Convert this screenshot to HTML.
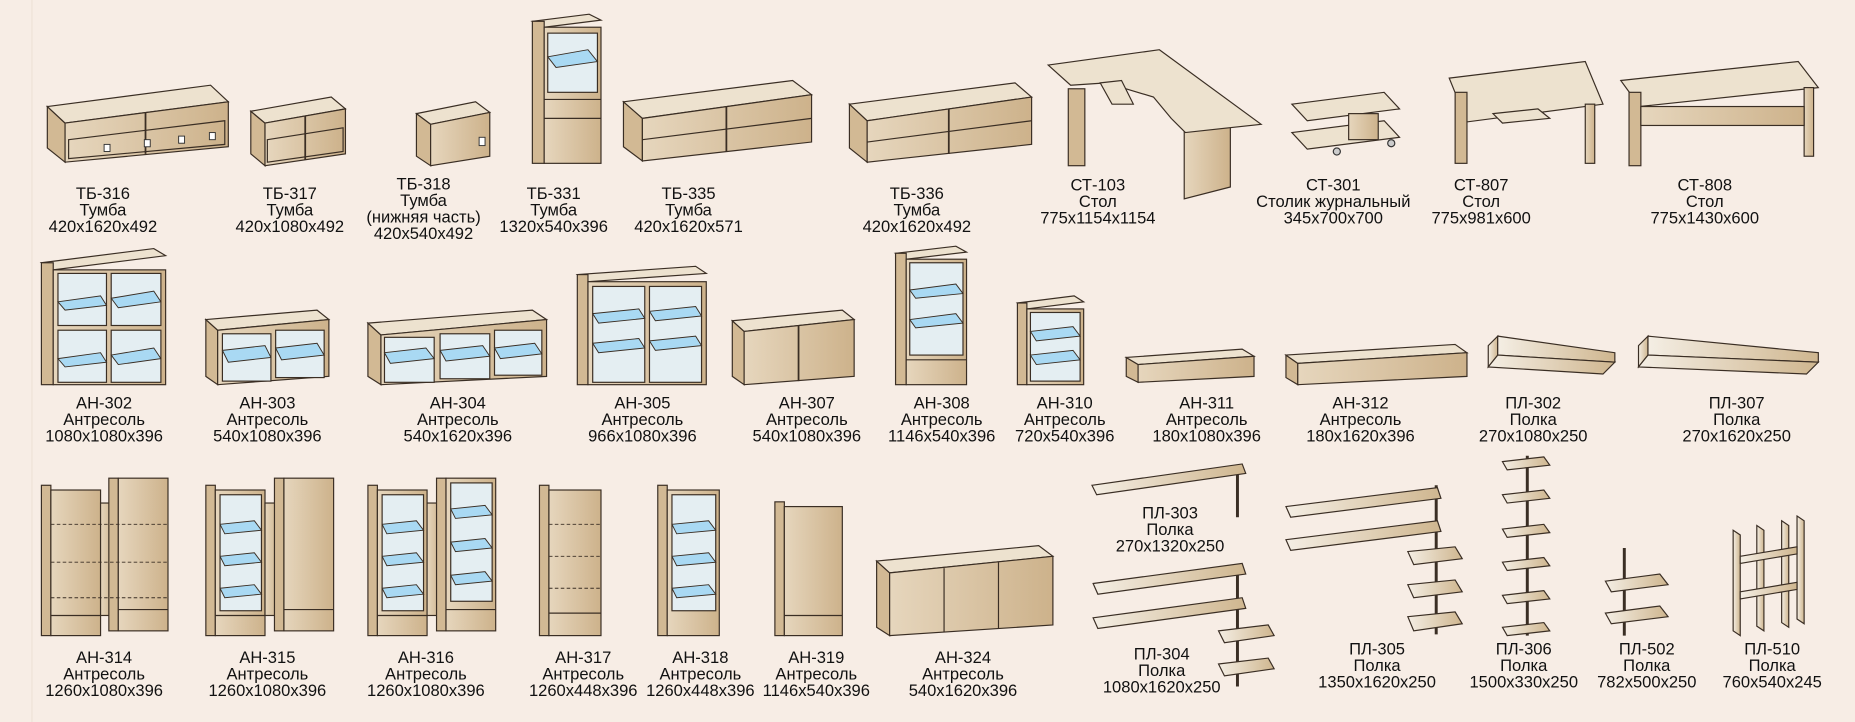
<!DOCTYPE html>
<html><head><meta charset="utf-8"><style>
html,body{margin:0;padding:0;background:#f7ede5}
svg{display:block}
text{font-family:"Liberation Sans Narrow","Liberation Sans",sans-serif;font-size:14px;fill:#111;text-anchor:middle}
.f{fill:url(#g1);stroke:#3a2e24;stroke-width:1}
.t{fill:#ede2cf;stroke:#3a2e24;stroke-width:1}
.s{fill:#d2b994;stroke:#3a2e24;stroke-width:1}
.gl{fill:#e4eef2;stroke:#3a2e24;stroke-width:1}
.b{fill:#a9d9f3;stroke:#3a2e24;stroke-width:.8}
.d{fill:none;stroke:#3a2e24;stroke-width:.8;stroke-dasharray:3 2}
.p{stroke:#3a2e24;stroke-width:2.5}
.sh{fill:url(#g2);stroke:#3a2e24;stroke-width:1}
.h{fill:#fff;stroke:#333;stroke-width:.8}
</style></head><body>
<svg width="1855" height="722" viewBox="0 0 1568 610" preserveAspectRatio="none" xmlns="http://www.w3.org/2000/svg">
<defs>
<linearGradient id="g1" x1="0" y1="0" x2="1" y2="0"><stop offset="0" stop-color="#e6d6bd"/><stop offset="1" stop-color="#cdb28b"/></linearGradient>
<linearGradient id="g2" x1="0" y1="0" x2="1" y2="0"><stop offset="0" stop-color="#f4eee4"/><stop offset="1" stop-color="#cfb68f"/></linearGradient>
</defs>
<rect x="0" y="0" width="1568" height="610" fill="#f7ede5"/>
<line x1="27" y1="0" x2="27" y2="610" stroke="#eee2d6" stroke-width="1"/>

<!-- ROW 1 -->
<!-- TB-316 -->
<polygon class="s" points="40,90 55,104 55,137 40,125"/>
<polygon class="t" points="40,90 178,72 193,86 55,104"/>
<polygon class="f" points="55,104 193,86 193,124 55,137"/>
<polygon class="f" points="58,118 190,102 190,122 58,134"/>
<line x1="123" y1="95" x2="123" y2="130" stroke="#3a2e24" stroke-width="1.5"/>
<rect class="h" x="88" y="122" width="5" height="6"/><rect class="h" x="122" y="118" width="5" height="6"/><rect class="h" x="151" y="115" width="5" height="6"/><rect class="h" x="177" y="112" width="5" height="6"/>
<!-- TB-317 -->
<polygon class="s" points="212,94 224,104 224,140 212,130"/>
<polygon class="t" points="212,94 280,82 292,92 224,104"/>
<polygon class="f" points="224,104 292,92 292,130 224,140"/>
<polygon class="f" points="226,118 290,108 290,128 226,137"/>
<line x1="258" y1="98" x2="258" y2="135" stroke="#3a2e24" stroke-width="1.5"/>
<!-- TB-318 -->
<polygon class="s" points="352,96 364,105 364,140 352,132"/>
<polygon class="t" points="352,96 402,86 414,95 364,105"/>
<polygon class="f" points="364,105 414,95 414,132 364,140"/>
<rect class="h" x="405" y="116" width="5" height="7"/>
<!-- TB-331 -->
<polygon class="t" points="450,18 498,12 508,17 460,23"/>
<rect class="s" x="450" y="18" width="10" height="120"/>
<rect class="f" x="460" y="23" width="48" height="115"/>
<rect class="gl" x="463" y="28" width="42" height="50"/>
<polygon class="b" points="463,48 497,42 505,52 470,57"/>
<line x1="460" y1="84" x2="508" y2="84" stroke="#3a2e24"/><line x1="460" y1="100" x2="508" y2="100" stroke="#3a2e24"/>
<!-- TB-335 -->
<polygon class="s" points="527,86 543,100 543,136 527,124"/>
<polygon class="t" points="527,86 670,68 686,80 543,100"/>
<polygon class="f" points="543,100 686,80 686,120 543,136"/>
<line x1="543" y1="118" x2="686" y2="100" stroke="#3a2e24"/><line x1="614" y1="90" x2="614" y2="128" stroke="#3a2e24" stroke-width="1.5"/>
<!-- TB-336 -->
<polygon class="s" points="718,88 733,102 733,137 718,125"/>
<polygon class="t" points="718,88 858,70 872,82 733,102"/>
<polygon class="f" points="733,102 872,82 872,122 733,137"/>
<line x1="733" y1="120" x2="872" y2="102" stroke="#3a2e24"/><line x1="802" y1="92" x2="802" y2="130" stroke="#3a2e24" stroke-width="1.5"/>
<!-- CT-103 -->
<rect class="s" x="903" y="75" width="14" height="65"/>
<polygon class="f" points="1001,110 1040,105 1040,158 1001,168"/>
<polygon class="t" points="886,55 980,42 1066,105 1002,112 990,100 975,82 935,70 905,72"/>
<polygon class="t" points="930,70 948,68 958,88 940,88"/>
<!-- CT-301 -->
<polygon class="t" points="1092,88 1170,78 1183,92 1105,102"/>
<polygon class="t" points="1092,112 1170,102 1183,116 1105,126"/>
<rect class="f" x="1140" y="96" width="25" height="22"/>
<circle cx="1130" cy="128" r="3" fill="#ccc" stroke="#333"/><circle cx="1176" cy="121" r="3" fill="#ccc" stroke="#333"/>
<!-- CT-807 -->
<polygon class="t" points="1225,66 1340,52 1355,88 1240,103"/>
<rect class="s" x="1230" y="78" width="10" height="60"/>
<rect class="f" x="1340" y="88" width="8" height="50"/>
<polygon class="t" points="1262,96 1300,92 1310,100 1270,104"/>
<!-- CT-808 -->
<polygon class="t" points="1370,68 1520,52 1537,74 1386,90"/>
<rect class="s" x="1377" y="78" width="10" height="62"/>
<rect class="f" x="1525" y="74" width="8" height="58"/>
<rect class="f" x="1387" y="90" width="138" height="16"/>

<!-- ROW 2 -->
<!-- AH-302 -->
<polygon class="t" points="35,222 130,210 140,216 45,228"/>
<rect class="s" x="35" y="222" width="10" height="103"/>
<rect class="f" x="45" y="228" width="95" height="97"/>
<rect class="gl" x="49" y="231" width="41" height="44"/><rect class="gl" x="94" y="231" width="42" height="44"/>
<rect class="gl" x="49" y="279" width="41" height="44"/><rect class="gl" x="94" y="279" width="42" height="44"/>
<polygon class="b" points="49,255 85,250 90,258 55,262"/><polygon class="b" points="94,252 130,246 136,255 100,260"/>
<polygon class="b" points="49,303 85,298 90,306 55,310"/><polygon class="b" points="94,300 130,294 136,303 100,308"/>
<!-- AH-303 -->
<polygon class="s" points="174,270 184,279 184,325 174,318"/>
<polygon class="t" points="174,270 268,262 278,270 184,279"/>
<polygon class="f" points="184,279 278,270 278,318 184,325"/>
<rect class="gl" x="188" y="282" width="41" height="40"/><rect class="gl" x="233" y="279" width="41" height="40"/>
<polygon class="b" points="188,296 224,292 229,302 193,306"/><polygon class="b" points="233,294 268,290 274,300 238,304"/>
<!-- AH-304 -->
<polygon class="s" points="311,273 322,283 322,325 311,318"/>
<polygon class="t" points="311,273 450,262 462,270 322,283"/>
<polygon class="f" points="322,283 462,270 462,318 322,325"/>
<rect class="gl" x="325" y="285" width="42" height="38"/><rect class="gl" x="372" y="282" width="42" height="38"/><rect class="gl" x="418" y="279" width="40" height="38"/>
<polygon class="b" points="325,298 360,294 367,303 330,307"/><polygon class="b" points="372,296 408,292 414,301 377,305"/><polygon class="b" points="418,294 452,290 458,299 423,303"/>
<!-- AH-305 -->
<polygon class="t" points="488,232 588,225 597,231 497,238"/>
<rect class="s" x="488" y="232" width="9" height="93"/>
<rect class="f" x="497" y="238" width="100" height="87"/>
<rect class="gl" x="501" y="242" width="44" height="81"/><rect class="gl" x="549" y="242" width="44" height="81"/>
<polygon class="b" points="501,265 540,261 545,269 506,273"/><polygon class="b" points="549,263 588,259 593,267 554,271"/>
<polygon class="b" points="501,290 540,286 545,294 506,298"/><polygon class="b" points="549,288 588,284 593,292 554,296"/>
<!-- AH-307 -->
<polygon class="s" points="619,271 629,280 629,325 619,318"/>
<polygon class="t" points="619,271 712,262 722,270 629,280"/>
<polygon class="f" points="629,280 722,270 722,318 629,325"/>
<line x1="675" y1="275" x2="675" y2="322" stroke="#3a2e24" stroke-width="1.5"/>
<!-- AH-308 -->
<polygon class="t" points="757,214 808,208 817,213 766,219"/>
<rect class="s" x="757" y="214" width="9" height="111"/>
<rect class="f" x="766" y="219" width="51" height="106"/>
<rect class="gl" x="769" y="222" width="45" height="78"/>
<polygon class="b" points="769,245 808,240 814,248 774,252"/><polygon class="b" points="769,270 808,265 814,273 774,277"/>
<line x1="766" y1="304" x2="817" y2="304" stroke="#3a2e24"/>
<!-- AH-310 -->
<polygon class="t" points="860,256 908,250 916,255 868,261"/>
<rect class="s" x="860" y="256" width="8" height="69"/>
<rect class="f" x="868" y="261" width="48" height="64"/>
<rect class="gl" x="871" y="264" width="42" height="58"/>
<polygon class="b" points="871,280 907,276 913,284 876,288"/><polygon class="b" points="871,300 907,296 913,304 876,308"/>
<!-- AH-311 -->
<polygon class="s" points="952,302 962,308 962,323 952,318"/>
<polygon class="t" points="952,302 1050,295 1060,301 962,308"/>
<polygon class="f" points="962,308 1060,301 1060,318 962,323"/>
<!-- AH-312 -->
<polygon class="s" points="1087,300 1097,307 1097,325 1087,319"/>
<polygon class="t" points="1087,300 1230,291 1240,298 1097,307"/>
<polygon class="f" points="1097,307 1240,298 1240,318 1097,325"/>
<!-- ПЛ-302 -->
<polygon class="sh" points="1258,292 1266,284 1266,300 1258,310"/>
<polygon class="sh" points="1266,284 1365,298 1365,306 1266,300"/>
<polygon class="sh" points="1258,310 1266,300 1365,306 1355,316"/>
<!-- ПЛ-307 -->
<polygon class="sh" points="1385,292 1393,284 1393,300 1385,310"/>
<polygon class="sh" points="1393,284 1537,298 1537,306 1393,300"/>
<polygon class="sh" points="1385,310 1393,300 1537,306 1527,316"/>

<!-- ROW 3 -->
<!-- AH-314 -->
<rect class="s" x="35" y="410" width="8" height="127"/>
<rect class="f" x="43" y="414" width="42" height="123"/>
<rect class="f" x="85" y="425" width="12" height="95"/>
<rect class="s" x="92" y="404" width="8" height="129"/>
<rect class="f" x="100" y="404" width="42" height="129"/>
<line x1="43" y1="443" x2="142" y2="443" class="d"/><line x1="43" y1="475" x2="142" y2="475" class="d"/><line x1="43" y1="505" x2="142" y2="505" class="d"/>
<line x1="43" y1="520" x2="85" y2="520" stroke="#3a2e24"/><line x1="100" y1="515" x2="142" y2="515" stroke="#3a2e24"/>
<!-- AH-315 -->
<rect class="s" x="174" y="410" width="8" height="127"/>
<rect class="f" x="182" y="414" width="42" height="123"/>
<rect class="gl" x="186" y="418" width="35" height="98"/>
<polygon class="b" points="186,443 215,440 221,448 190,451"/><polygon class="b" points="186,470 215,467 221,475 190,478"/><polygon class="b" points="186,497 215,494 221,502 190,505"/>
<rect class="f" x="224" y="425" width="12" height="95"/>
<rect class="s" x="232" y="404" width="8" height="129"/>
<rect class="f" x="240" y="404" width="42" height="129"/>
<line x1="182" y1="520" x2="224" y2="520" stroke="#3a2e24"/><line x1="240" y1="515" x2="282" y2="515" stroke="#3a2e24"/>
<!-- AH-316 -->
<rect class="s" x="311" y="410" width="8" height="127"/>
<rect class="f" x="319" y="414" width="42" height="123"/>
<rect class="gl" x="323" y="418" width="35" height="98"/>
<polygon class="b" points="323,443 352,440 358,448 327,451"/><polygon class="b" points="323,470 352,467 358,475 327,478"/><polygon class="b" points="323,497 352,494 358,502 327,505"/>
<rect class="f" x="361" y="425" width="12" height="95"/>
<rect class="s" x="369" y="404" width="8" height="129"/>
<rect class="f" x="377" y="404" width="42" height="129"/>
<rect class="gl" x="381" y="408" width="35" height="100"/>
<polygon class="b" points="381,430 410,427 416,435 385,438"/><polygon class="b" points="381,458 410,455 416,463 385,466"/><polygon class="b" points="381,486 410,483 416,491 385,494"/>
<line x1="319" y1="520" x2="361" y2="520" stroke="#3a2e24"/><line x1="377" y1="515" x2="419" y2="515" stroke="#3a2e24"/>
<!-- AH-317 -->
<rect class="s" x="456" y="410" width="8" height="127"/>
<rect class="f" x="464" y="414" width="44" height="123"/>
<line x1="464" y1="443" x2="508" y2="443" class="d"/><line x1="464" y1="470" x2="508" y2="470" class="d"/><line x1="464" y1="497" x2="508" y2="497" class="d"/>
<line x1="464" y1="518" x2="508" y2="518" stroke="#3a2e24"/>
<!-- AH-318 -->
<rect class="s" x="556" y="410" width="8" height="127"/>
<rect class="f" x="564" y="414" width="44" height="123"/>
<rect class="gl" x="568" y="418" width="37" height="98"/>
<polygon class="b" points="568,443 599,440 605,448 572,451"/><polygon class="b" points="568,470 599,467 605,475 572,478"/><polygon class="b" points="568,497 599,494 605,502 572,505"/>
<!-- AH-319 -->
<rect class="s" x="655" y="424" width="8" height="113"/>
<rect class="f" x="663" y="428" width="49" height="109"/>
<line x1="663" y1="520" x2="712" y2="520" stroke="#3a2e24"/>
<!-- AH-324 -->
<polygon class="s" points="741,474 752,484 752,537 741,530"/>
<polygon class="t" points="741,474 878,461 890,470 752,484"/>
<polygon class="f" points="752,484 890,470 890,528 752,537"/>
<line x1="798" y1="480" x2="798" y2="534" stroke="#3a2e24"/><line x1="844" y1="475" x2="844" y2="531" stroke="#3a2e24"/>
<!-- ПЛ-303 -->
<line x1="1046" y1="400" x2="1046" y2="437" class="p"/>
<polygon class="sh" points="923,410 1050,392 1053,400 927,418"/>
<!-- ПЛ-304 -->
<line x1="1046" y1="480" x2="1046" y2="580" class="p"/>
<polygon class="sh" points="924,493 1050,476 1053,485 928,502"/>
<polygon class="sh" points="924,522 1050,505 1053,514 928,531"/>
<polygon class="sh" points="1030,533 1072,528 1077,537 1035,543"/>
<polygon class="sh" points="1030,561 1072,556 1077,565 1035,571"/>
<!-- ПЛ-305 -->
<line x1="1214" y1="410" x2="1214" y2="536" class="p"/>
<polygon class="sh" points="1087,428 1215,412 1218,421 1091,437"/>
<polygon class="sh" points="1087,456 1215,440 1218,449 1091,465"/>
<polygon class="sh" points="1190,466 1230,462 1236,472 1195,477"/>
<polygon class="sh" points="1190,494 1230,490 1236,500 1195,505"/>
<polygon class="sh" points="1190,521 1230,517 1236,527 1195,533"/>
<!-- ПЛ-306 -->
<line x1="1291" y1="385" x2="1291" y2="537" class="p"/>
<polygon class="sh" points="1270,390 1305,386 1310,393 1274,397"/>
<polygon class="sh" points="1270,418 1305,414 1310,421 1274,425"/>
<polygon class="sh" points="1270,447 1305,443 1310,450 1274,454"/>
<polygon class="sh" points="1270,475 1305,471 1310,478 1274,482"/>
<polygon class="sh" points="1270,503 1305,499 1310,506 1274,510"/>
<polygon class="sh" points="1270,530 1305,526 1310,533 1274,537"/>
<!-- ПЛ-502 -->
<line x1="1373" y1="463" x2="1373" y2="537" class="p"/>
<polygon class="sh" points="1357,491 1403,485 1410,494 1362,500"/>
<polygon class="sh" points="1357,518 1403,512 1410,521 1362,527"/>
<!-- ПЛ-510 -->
<polygon class="sh" points="1465,448 1471,452 1471,537 1465,533"/>
<polygon class="sh" points="1485,444 1491,448 1491,533 1485,529"/>
<polygon class="sh" points="1506,440 1512,444 1512,530 1506,526"/>
<polygon class="sh" points="1519,436 1525,440 1525,527 1519,523"/>
<polygon class="sh" points="1471,470 1519,462 1519,468 1471,476"/>
<polygon class="sh" points="1471,500 1519,492 1519,498 1471,506"/>

<!-- LABELS -->
<g>
<text x="87" y="168">ТБ-316</text><text x="87" y="182">Тумба</text><text x="87" y="196">420x1620x492</text>
<text x="245" y="168">ТБ-317</text><text x="245" y="182">Тумба</text><text x="245" y="196">420x1080x492</text>
<text x="358" y="160">ТБ-318</text><text x="358" y="174">Тумба</text><text x="358" y="188">(нижняя часть)</text><text x="358" y="202">420x540x492</text>
<text x="468" y="168">ТБ-331</text><text x="468" y="182">Тумба</text><text x="468" y="196">1320x540x396</text>
<text x="582" y="168">ТБ-335</text><text x="582" y="182">Тумба</text><text x="582" y="196">420x1620x571</text>
<text x="775" y="168">ТБ-336</text><text x="775" y="182">Тумба</text><text x="775" y="196">420x1620x492</text>
<text x="928" y="161">СТ-103</text><text x="928" y="175">Стол</text><text x="928" y="189">775x1154x1154</text>
<text x="1127" y="161">СТ-301</text><text x="1127" y="175">Столик журнальный</text><text x="1127" y="189">345x700x700</text>
<text x="1252" y="161">СТ-807</text><text x="1252" y="175">Стол</text><text x="1252" y="189">775x981x600</text>
<text x="1441" y="161">СТ-808</text><text x="1441" y="175">Стол</text><text x="1441" y="189">775x1430x600</text>

<text x="88" y="345">АН-302</text><text x="88" y="359">Антресоль</text><text x="88" y="373">1080x1080x396</text>
<text x="226" y="345">АН-303</text><text x="226" y="359">Антресоль</text><text x="226" y="373">540x1080x396</text>
<text x="387" y="345">АН-304</text><text x="387" y="359">Антресоль</text><text x="387" y="373">540x1620x396</text>
<text x="543" y="345">АН-305</text><text x="543" y="359">Антресоль</text><text x="543" y="373">966x1080x396</text>
<text x="682" y="345">АН-307</text><text x="682" y="359">Антресоль</text><text x="682" y="373">540x1080x396</text>
<text x="796" y="345">АН-308</text><text x="796" y="359">Антресоль</text><text x="796" y="373">1146x540x396</text>
<text x="900" y="345">АН-310</text><text x="900" y="359">Антресоль</text><text x="900" y="373">720x540x396</text>
<text x="1020" y="345">АН-311</text><text x="1020" y="359">Антресоль</text><text x="1020" y="373">180x1080x396</text>
<text x="1150" y="345">АН-312</text><text x="1150" y="359">Антресоль</text><text x="1150" y="373">180x1620x396</text>
<text x="1296" y="345">ПЛ-302</text><text x="1296" y="359">Полка</text><text x="1296" y="373">270x1080x250</text>
<text x="1468" y="345">ПЛ-307</text><text x="1468" y="359">Полка</text><text x="1468" y="373">270x1620x250</text>

<text x="88" y="560">АН-314</text><text x="88" y="574">Антресоль</text><text x="88" y="588">1260x1080x396</text>
<text x="226" y="560">АН-315</text><text x="226" y="574">Антресоль</text><text x="226" y="588">1260x1080x396</text>
<text x="360" y="560">АН-316</text><text x="360" y="574">Антресоль</text><text x="360" y="588">1260x1080x396</text>
<text x="493" y="560">АН-317</text><text x="493" y="574">Антресоль</text><text x="493" y="588">1260x448x396</text>
<text x="592" y="560">АН-318</text><text x="592" y="574">Антресоль</text><text x="592" y="588">1260x448x396</text>
<text x="690" y="560">АН-319</text><text x="690" y="574">Антресоль</text><text x="690" y="588">1146x540x396</text>
<text x="814" y="560">АН-324</text><text x="814" y="574">Антресоль</text><text x="814" y="588">540x1620x396</text>
<text x="989" y="438">ПЛ-303</text><text x="989" y="452">Полка</text><text x="989" y="466">270x1320x250</text>
<text x="982" y="557">ПЛ-304</text><text x="982" y="571">Полка</text><text x="982" y="585">1080x1620x250</text>
<text x="1164" y="553">ПЛ-305</text><text x="1164" y="567">Полка</text><text x="1164" y="581">1350x1620x250</text>
<text x="1288" y="553">ПЛ-306</text><text x="1288" y="567">Полка</text><text x="1288" y="581">1500x330x250</text>
<text x="1392" y="553">ПЛ-502</text><text x="1392" y="567">Полка</text><text x="1392" y="581">782x500x250</text>
<text x="1498" y="553">ПЛ-510</text><text x="1498" y="567">Полка</text><text x="1498" y="581">760x540x245</text>
</g>
</svg>
</body></html>
